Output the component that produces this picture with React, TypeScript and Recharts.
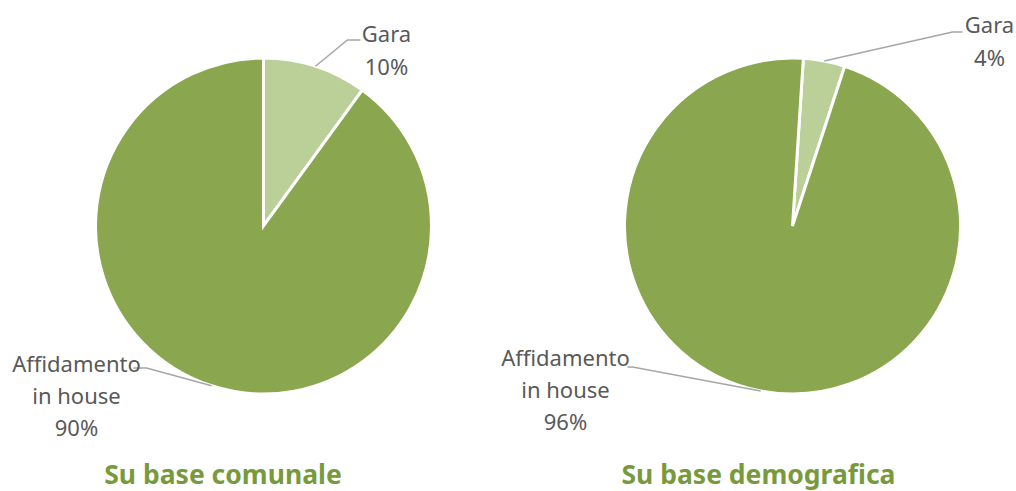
import React from 'react';
import { PieChart, Pie, Cell } from 'recharts';

const categories = ['Gara', 'Affidamento in house'];
const labelText = [['Gara'], ['Affidamento', 'in house']];
const comunaleValues = [10, 90];
const demograficaValues = [4, 96];
const titles = ['Su base comunale', 'Su base demografica'];

const colors = ['#BBD098', '#8AA64F'];
const TITLE_COLOR = '#789A3C';
const LABEL_COLOR = '#595959';
const LINE_COLOR = '#A6A6A6';
const FONT = '"Noto Sans", sans-serif';

const leftData = categories.map((name, i) => ({ name, value: comunaleValues[i] }));
const rightData = categories.map((name, i) => ({ name, value: demograficaValues[i] }));

type LabelLayout = { ex: number; ey: number; hx: number; tx: number; ty: number; gap: number };

// label layout offsets relative to pie centre
const leftLayout: LabelLayout[] = [
  { ex: 84, ey: -186, hx: 97, tx: 123, ty: -184, gap: 33 },
  { ex: -117, ey: 142, hx: -130, tx: -187, ty: 146, gap: 32 },
];
const rightLayout: LabelLayout[] = [
  { ex: 160, ey: -194, hx: 170, tx: 197, ty: -193, gap: 33 },
  { ex: -160, ey: 141, hx: -165, tx: -227, ty: 140, gap: 32 },
];

const RAD = Math.PI / 180;

const makeLabel = (layout: LabelLayout[]) => (props: any) => {
  const { cx, cy, midAngle, outerRadius, percent, index } = props;
  const L = layout[index];
  const sx = cx + outerRadius * Math.cos(-midAngle * RAD);
  const sy = cy + outerRadius * Math.sin(-midAngle * RAD);
  const lines = [...labelText[index], `${Math.round(percent * 100)}%`];
  return (
    <g key={`lbl-${index}`}>
      <polyline
        points={`${sx},${sy} ${cx + L.ex},${cy + L.ey} ${cx + L.hx},${cy + L.ey}`}
        fill="none"
        stroke={LINE_COLOR}
        strokeWidth={1.5}
      />
      {lines.map((t, i) => (
        <text
          key={i}
          x={cx + L.tx}
          y={cy + L.ty + i * L.gap}
          textAnchor="middle"
          fill={LABEL_COLOR}
          fontSize={22}
          fontFamily={FONT}
        >
          {t}
        </text>
      ))}
    </g>
  );
};

export default function App() {
  return (
    <div style={{ position: 'absolute', left: 0, top: 0, width: 1016, height: 491, background: '#fff' }}>
      <PieChart width={1016} height={491} margin={{ top: 0, right: 0, bottom: 0, left: 0 }}>
        <Pie
          data={leftData}
          dataKey="value"
          nameKey="name"
          cx={263.5}
          cy={226}
          outerRadius={168}
          startAngle={90}
          endAngle={-270}
          stroke="#ffffff"
          strokeWidth={3}
          isAnimationActive={false}
          label={makeLabel(leftLayout)}
          labelLine={false}
        >
          {leftData.map((d, i) => (
            <Cell key={d.name} fill={colors[i]} />
          ))}
        </Pie>
        <Pie
          data={rightData}
          dataKey="value"
          nameKey="name"
          cx={792.5}
          cy={226}
          outerRadius={168}
          startAngle={86.3}
          endAngle={-273.7}
          stroke="#ffffff"
          strokeWidth={3}
          isAnimationActive={false}
          label={makeLabel(rightLayout)}
          labelLine={false}
        >
          {rightData.map((d, i) => (
            <Cell key={d.name} fill={colors[i]} />
          ))}
        </Pie>
      </PieChart>
      <svg width={1016} height={491} style={{ position: 'absolute', left: 0, top: 0, pointerEvents: 'none' }}>
        <text x={223} y={484} textAnchor="middle" fill={TITLE_COLOR} fontSize={26.5} fontWeight="bold" fontFamily={FONT}>
          {titles[0]}
        </text>
        <text x={758.5} y={484} textAnchor="middle" fill={TITLE_COLOR} fontSize={26.5} fontWeight="bold" fontFamily={FONT}>
          {titles[1]}
        </text>
      </svg>
    </div>
  );
}
